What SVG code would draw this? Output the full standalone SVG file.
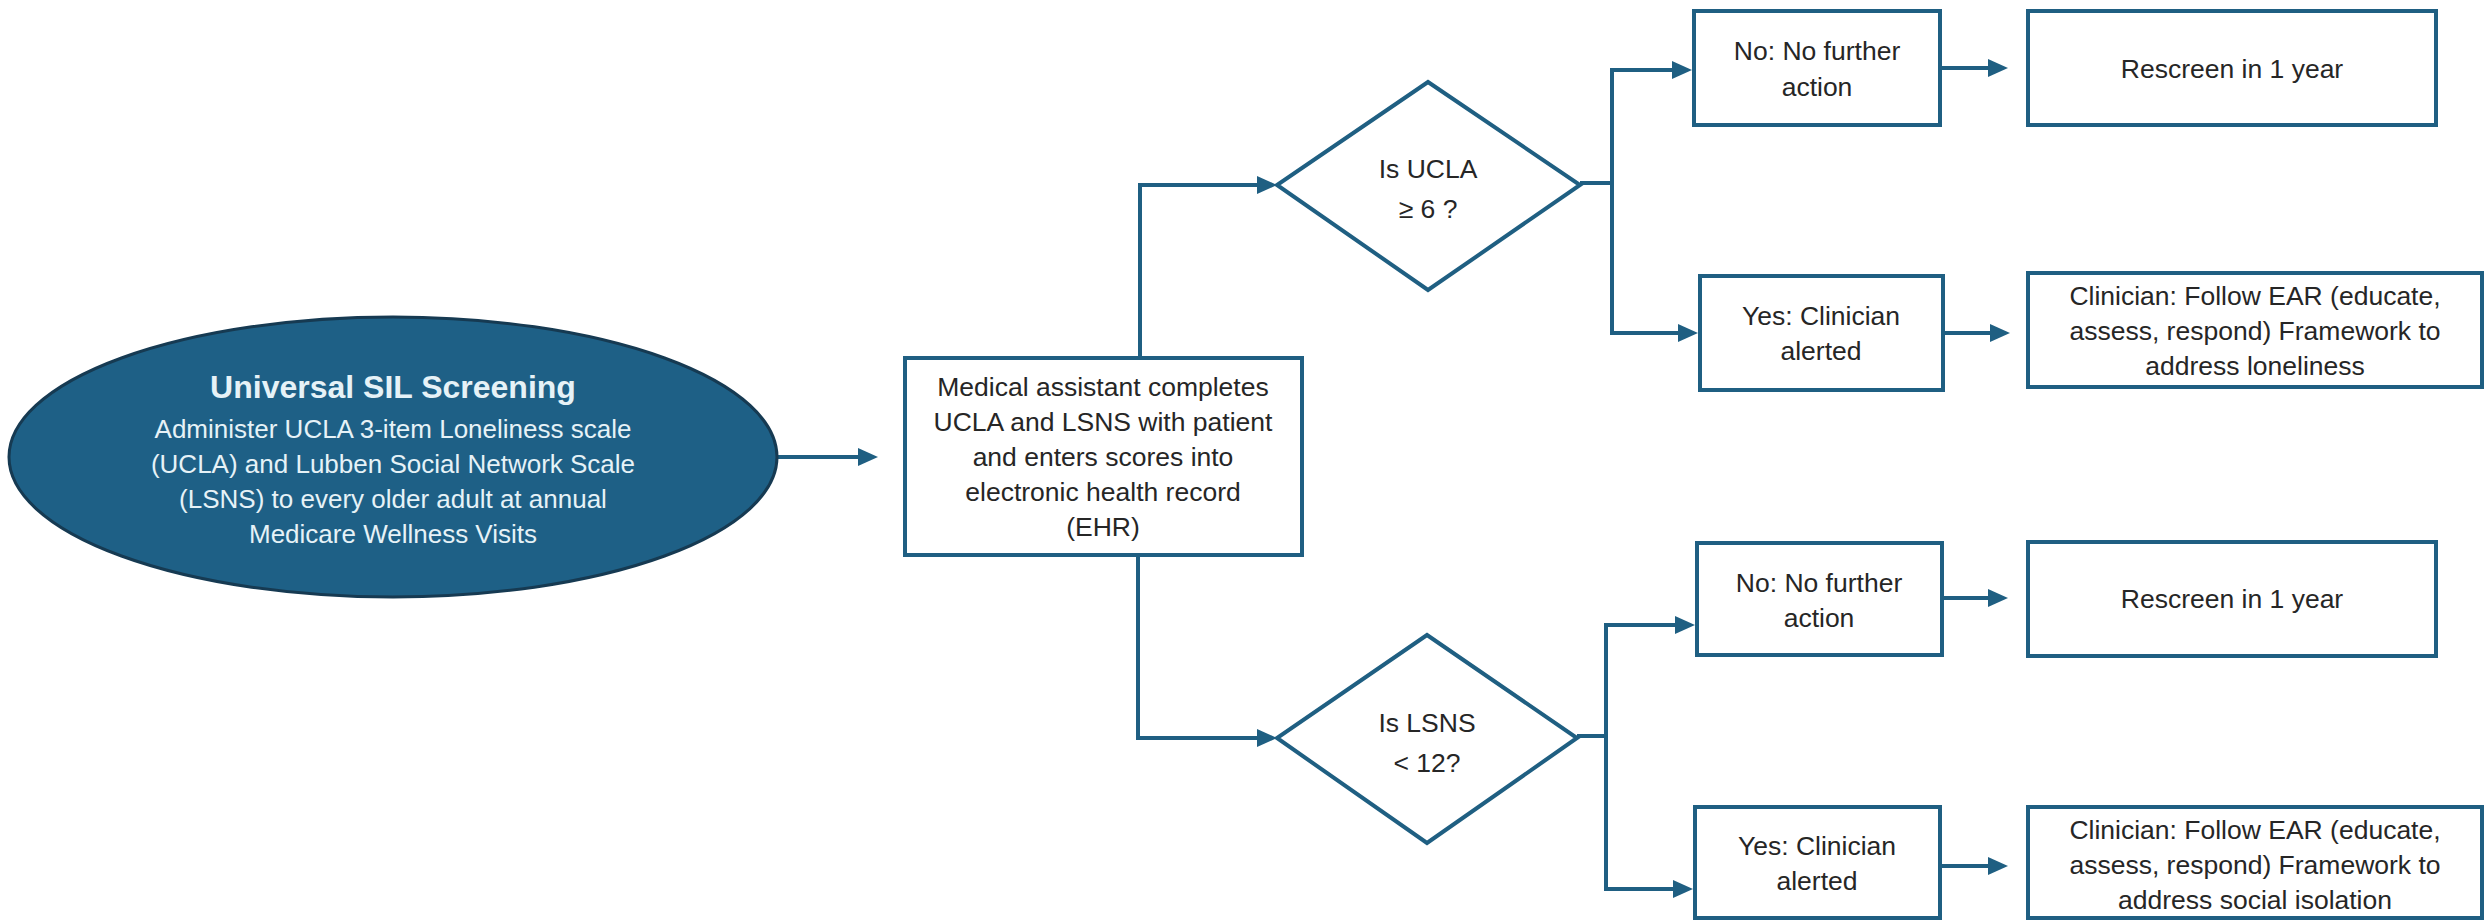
<svg xmlns="http://www.w3.org/2000/svg" width="2486" height="922" viewBox="0 0 2486 922">
<defs>
<style>
.box{fill:#ffffff;stroke:#1f5f82;stroke-width:4}
.con{fill:none;stroke:#1f5f82;stroke-width:4}
.t{font-family:"Liberation Sans",Arial,sans-serif;font-size:26.5px;fill:#262626;text-anchor:middle}
.w{font-family:"Liberation Sans",Arial,sans-serif;font-size:26px;fill:#e6f2f7;text-anchor:middle}
.wt{font-family:"Liberation Sans",Arial,sans-serif;font-size:32px;font-weight:bold;fill:#e6f2f7;text-anchor:middle}
</style>
<marker id="ah" markerUnits="userSpaceOnUse" markerWidth="20" markerHeight="18" refX="6" refY="9" orient="auto">
<path d="M0,0 L20,9 L0,18 Z" fill="#1f5f82"/>
</marker>
</defs>
<rect width="2486" height="922" fill="#ffffff"/>

<g id="connectors">
<path class="con" d="M777,457 H864" marker-end="url(#ah)"/>
<path class="con" d="M1140,358 V185 H1263" marker-end="url(#ah)"/>
<path class="con" d="M1138,555 V738 H1263" marker-end="url(#ah)"/>
<path class="con" d="M1580,183 H1612"/>
<path class="con" d="M1612,183 V70 H1678" marker-end="url(#ah)"/>
<path class="con" d="M1612,183 V333 H1684" marker-end="url(#ah)"/>
<path class="con" d="M1577,736 H1606"/>
<path class="con" d="M1606,736 V625 H1681" marker-end="url(#ah)"/>
<path class="con" d="M1606,736 V889 H1679" marker-end="url(#ah)"/>
<path class="con" d="M1940,68 H1994" marker-end="url(#ah)"/>
<path class="con" d="M1943,333 H1996" marker-end="url(#ah)"/>
<path class="con" d="M1942,598 H1994" marker-end="url(#ah)"/>
<path class="con" d="M1940,866 H1994" marker-end="url(#ah)"/>
</g>

<g id="start">
<ellipse cx="393" cy="457" rx="384" ry="140" fill="#1e6086" stroke="#163a52" stroke-width="3"/>
<text class="wt" x="393" y="398">Universal SIL Screening</text>
<text class="w" x="393" y="438">Administer UCLA 3-item Loneliness scale</text>
<text class="w" x="393" y="473">(UCLA) and Lubben Social Network Scale</text>
<text class="w" x="393" y="508">(LSNS) to every older adult at annual</text>
<text class="w" x="393" y="543">Medicare Wellness Visits</text>
</g>

<g id="assistant">
<rect class="box" x="905" y="358" width="397" height="197"/>
<text class="t" x="1103" y="396">Medical assistant completes</text>
<text class="t" x="1103" y="431">UCLA and LSNS with patient</text>
<text class="t" x="1103" y="466">and enters scores into</text>
<text class="t" x="1103" y="501">electronic health record</text>
<text class="t" x="1103" y="536">(EHR)</text>
</g>

<g id="ucla">
<polygon class="box" points="1428,82 1580,185 1428,290 1277,185"/>
<text class="t" x="1428" y="178">Is UCLA</text>
<text class="t" x="1428" y="218">≥ 6 ?</text>
</g>

<g id="lsns">
<polygon class="box" points="1427,635 1577,738 1427,843 1277,738"/>
<text class="t" x="1427" y="732">Is LSNS</text>
<text class="t" x="1427" y="772">&lt; 12?</text>
</g>

<g id="no1">
<rect class="box" x="1694" y="11" width="246" height="114"/>
<text class="t" x="1817" y="60">No: No further</text>
<text class="t" x="1817" y="96">action</text>
</g>

<g id="yes1">
<rect class="box" x="1700" y="276" width="243" height="114"/>
<text class="t" x="1821" y="325">Yes: Clinician</text>
<text class="t" x="1821" y="360">alerted</text>
</g>

<g id="rescreen1">
<rect class="box" x="2028" y="11" width="408" height="114"/>
<text class="t" x="2232" y="78">Rescreen in 1 year</text>
</g>

<g id="ear1">
<rect class="box" x="2028" y="273" width="454" height="114"/>
<text class="t" x="2255" y="305">Clinician: Follow EAR (educate,</text>
<text class="t" x="2255" y="340">assess, respond) Framework to</text>
<text class="t" x="2255" y="375">address loneliness</text>
</g>

<g id="no2">
<rect class="box" x="1697" y="543" width="245" height="112"/>
<text class="t" x="1819" y="592">No: No further</text>
<text class="t" x="1819" y="627">action</text>
</g>

<g id="yes2">
<rect class="box" x="1695" y="807" width="245" height="111"/>
<text class="t" x="1817" y="855">Yes: Clinician</text>
<text class="t" x="1817" y="890">alerted</text>
</g>

<g id="rescreen2">
<rect class="box" x="2028" y="542" width="408" height="114"/>
<text class="t" x="2232" y="608">Rescreen in 1 year</text>
</g>

<g id="ear2">
<rect class="box" x="2028" y="807" width="454" height="111"/>
<text class="t" x="2255" y="839">Clinician: Follow EAR (educate,</text>
<text class="t" x="2255" y="874">assess, respond) Framework to</text>
<text class="t" x="2255" y="909">address social isolation</text>
</g>
</svg>
